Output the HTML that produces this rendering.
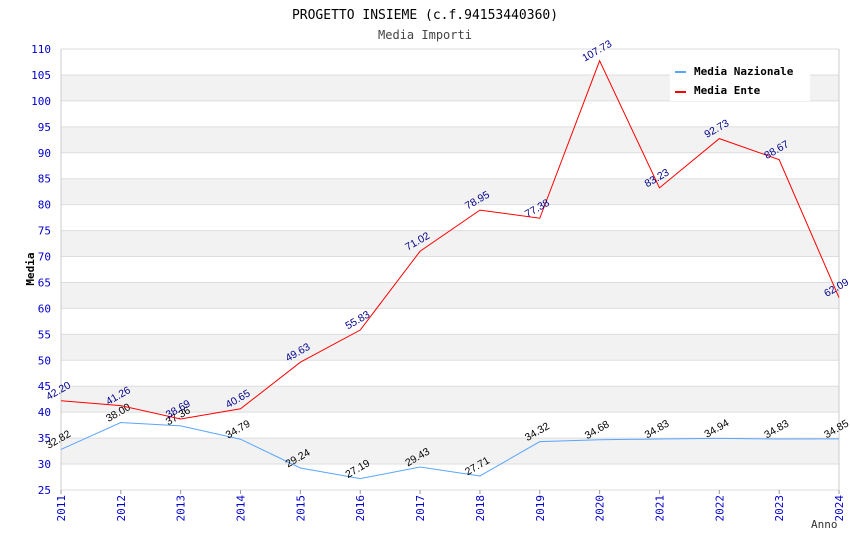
<!DOCTYPE html>
<html><head><meta charset="utf-8"><style>
body{margin:0;background:#fff;width:850px;height:550px;overflow:hidden}
svg text{font-family:"DejaVu Sans Mono","Liberation Mono",monospace}
svg text.val{font-family:"Liberation Sans","DejaVu Sans",sans-serif}
</style></head><body>
<svg id="c" width="850" height="550" xmlns="http://www.w3.org/2000/svg"></svg>
<script>
const years=[2011,2012,2013,2014,2015,2016,2017,2018,2019,2020,2021,2022,2023,2024];
const nazionale=[32.82,38.00,37.36,34.79,29.24,27.19,29.43,27.71,34.32,34.68,34.83,34.94,34.83,34.85];
const ente=[42.20,41.26,38.69,40.65,49.63,55.83,71.02,78.95,77.38,107.73,83.23,92.73,88.67,62.09];
const yTicks=[25,30,35,40,45,50,55,60,65,70,75,80,85,90,95,100,105,110];
const X0=61,X1=839,Y0=490,Y1=49,VMIN=25,VMAX=110;
const sx=i=>X0+(X1-X0)*i/(years.length-1);
const sy=v=>Y0-(v-VMIN)/(VMAX-VMIN)*(Y0-Y1);
const svg=document.getElementById('c');const NS='http://www.w3.org/2000/svg';
function mk(t,a,p){const e=document.createElementNS(NS,t);for(const k in a)e.setAttribute(k,a[k]);(p||svg).appendChild(e);return e;}
function tx(s,a){const e=mk('text',a);e.textContent=s;return e;}
for(let v=VMIN;v<VMAX;v+=5){if(v%10===0&&v>=30){const r=mk('rect',{x:X0,y:sy(v+5),width:X1-X0,height:sy(v)-sy(v+5),fill:'#f2f2f2'});

}}
yTicks.forEach(v=>{const l=mk('line',{x1:X0,x2:X1,y1:sy(v),y2:sy(v),stroke:'#ddd','stroke-width':1});


const t=tx(v,{x:X0-10,y:sy(v)+4,'text-anchor':'end','font-size':11,fill:'#0000cc'});

});
mk('line',{x1:X0,x2:X0,y1:Y1,y2:Y0,stroke:'#ccc'});
mk('line',{x1:X1,x2:X1,y1:Y1,y2:Y0,stroke:'#ccc'});
years.forEach((y,i)=>{const x=sx(i);mk('line',{x1:x,x2:x,y1:Y0,y2:Y0+4,stroke:'#999'});
const t=tx(y,{x:0,y:0,'font-size':11,fill:'#0000cc','text-anchor':'end',transform:`translate(${x+4},${Y0+5}) rotate(-90)`});

});
function series(vals,color,lblColor,name){
const p=mk('polyline',{points:vals.map((v,i)=>sx(i)+','+sy(v)).join(' '),fill:'none',stroke:color,'stroke-width':1});


vals.forEach((v,i)=>{const t=tx(v.toFixed(2),{x:0,y:0,'font-size':10.5,fill:lblColor,'text-anchor':'middle','class':'val',transform:`translate(${sx(i)-1},${sy(v)-7}) rotate(-30)`});

});}
series(nazionale,'#5aa5ff','#000','nazionale');
series(ente,'#ff0000','#00008b','ente');
let t=tx('PROGETTO INSIEME (c.f.94153440360)',{x:425,y:19,'text-anchor':'middle','font-size':13,fill:'#000'});

t=tx('Media Importi',{x:425,y:39,'text-anchor':'middle','font-size':12,fill:'#444'});

t=tx('Media',{x:0,y:0,'font-size':11,'font-weight':'bold','text-anchor':'middle',transform:'translate(34,269) rotate(-90)'});

t=tx('Anno',{x:811,y:528,'font-size':11,fill:'#333'});

const lg=mk('g',{});
mk('rect',{x:670,y:60,width:140,height:41,fill:'#fff'},lg);
mk('rect',{x:675,y:71,width:11,height:2,fill:'#5aa5ff'},lg);
mk('rect',{x:675,y:91,width:11,height:2,fill:'#ff0000'},lg);
t=tx('Media Nazionale',{x:694,y:75,'font-size':11,'font-weight':'bold'});lg.appendChild(t);

t=tx('Media Ente',{x:694,y:94,'font-size':11,'font-weight':'bold'});lg.appendChild(t);

</script></body></html>
